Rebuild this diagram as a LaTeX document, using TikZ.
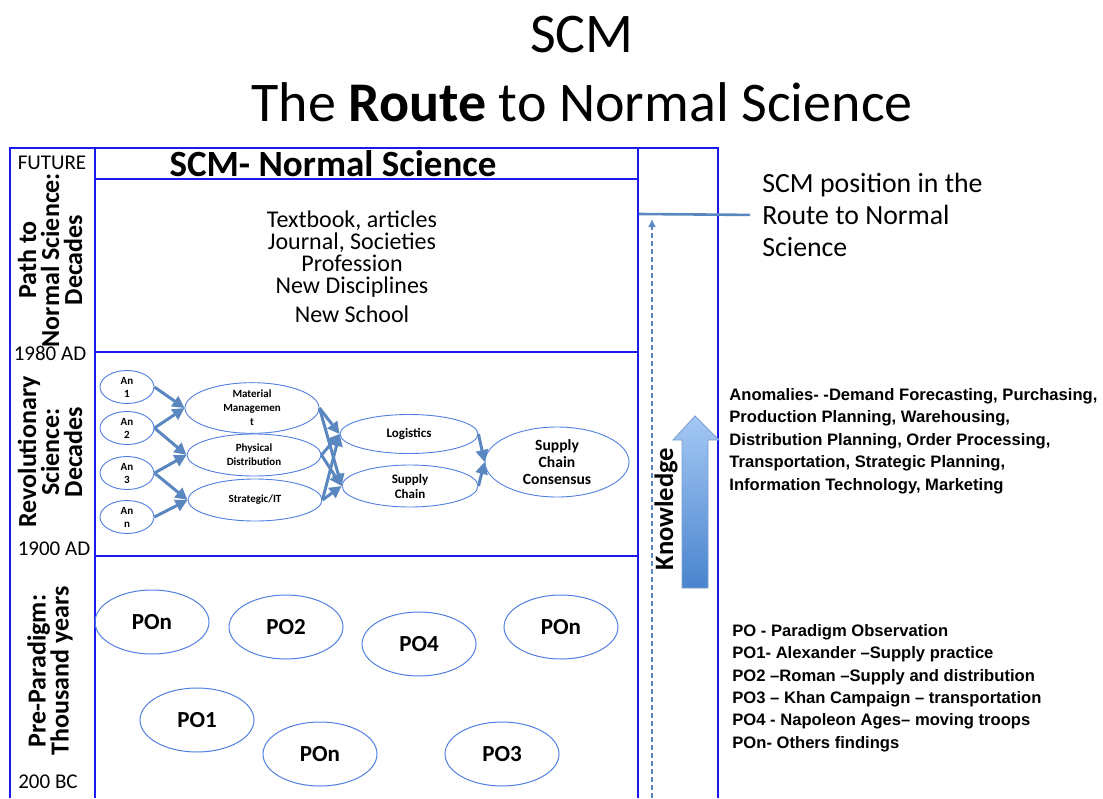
\documentclass[tikz,border=0pt]{standalone}
\usepackage{fontspec}
\setmainfont{Carlito}
\newfontfamily\arialfont{Liberation Sans}
\usetikzlibrary{shapes.geometric,arrows.meta}
\definecolor{boxblue}{HTML}{1A1AF0}
\definecolor{ellblue}{HTML}{4F7FE0}
\definecolor{arrblue}{HTML}{5B87C0}
\definecolor{lightarr}{HTML}{A4C8F4}
\definecolor{darkarr}{HTML}{4A84CE}

\begin{document}
\begin{tikzpicture}[x=0.5pt,y=-0.5pt,
  frame/.style={draw=boxblue,line width=0.7pt},
  an/.style={ellipse,draw=ellblue,line width=0.45pt,minimum width=27pt,minimum height=16.5pt,inner sep=0pt,align=center,font=\bfseries\fontsize{5.5}{6.5}\selectfont},
  mid/.style={an,minimum width=67pt,minimum height=21pt,font=\bfseries\fontsize{5.5}{7}\selectfont},
  flow/.style={draw=arrblue,line width=1.5pt,-{Triangle[length=6pt,width=6pt]}},
  po/.style={ellipse,draw=ellblue,line width=0.5pt,minimum width=57pt,minimum height=32pt,inner sep=0pt,font=\bfseries\fontsize{11.5}{12}\selectfont},
  side/.style={rotate=90,align=center,font=\bfseries\fontsize{13}{11.5}\selectfont},
  year/.style={font=\fontsize{10.5}{11}\selectfont},
  list/.style={anchor=west,align=left,inner sep=0pt,font=\arialfont\bfseries\fontsize{8.3}{11.2}\selectfont}]

    \useasboundingbox (0,0) rectangle (1103,798);

    % title
    \node[font=\fontsize{28}{34}\selectfont] (t1) at (582,35) {SCM};
    \node[font=\fontsize{28}{34}\selectfont] (t2) at (582,102) {The \textbf{Route} to Normal Science};

    % frame
    \draw[frame] (10,798) -- (10,148) -- (718,148) -- (718,798);
    \draw[frame] (95,148) -- (95,798);
    \draw[frame] (638,148) -- (638,798);
    \draw[frame] (95,179) -- (638,179);
    \draw[frame] (95,352) -- (638,352);
    \draw[frame] (95,556) -- (638,556);

    % time column
    \node[year] (y0) at (52,163) {FUTURE};
    \node[side] (s1) at (50,260) {Path to\\Normal Science:\\Decades};
    \node[year] (y1) at (50,353) {1980 AD};
    \node[side] (s2) at (50,452) {Revolutionary\\Science:\\Decades};
    \node[year] (y2) at (54,549) {1900 AD};
    \node[side] (s3) at (50,671) {Pre-Paradigm:\\Thousand years};
    \node[year] (y3) at (48,782) {200 BC};

    % normal science
    \node[font=\bfseries\fontsize{18.5}{20}\selectfont] (h) at (333,164) {SCM- Normal Science};
    \node[align=center,font=\fontsize{12}{11}\selectfont] (ns) at (352,254) {Textbook, articles\\Journal, Societies\\Profession\\New Disciplines};
    \node[font=\fontsize{12}{13}\selectfont] (school) at (352,314) {New School};

    % revolutionary science
    \node[an] (a1) at (127,387) {An\\1};
    \node[an] (a2) at (127,428) {An\\2};
    \node[an] (a3) at (127,473) {An\\3};
    \node[an] (a4) at (127,517) {An\\n};
    \node[mid] (mm) at (252,408) {Material\\Managemen\\t};
    \node[mid] (pd) at (254,455) {Physical\\Distribution};
    \node[mid] (it) at (255,500) {Strategic/IT};
    \node[mid,minimum width=69pt,minimum height=19.5pt,font=\bfseries\fontsize{6.5}{7.5}\selectfont] (lg) at (409,434) {Logistics};
    \node[mid,minimum width=68pt,font=\bfseries\fontsize{6.5}{7.5}\selectfont] (sc) at (410,486) {Supply\\Chain};
    \node[an,minimum width=72pt,minimum height=35pt,font=\bfseries\fontsize{7.8}{8.6}\selectfont] (scc) at (557,462) {Supply\\Chain\\Consensus};

    \draw[flow] (a1.east) -- (mm.west);
    \draw[flow] (a2.east) -- (mm.west);
    \draw[flow] (a2.east) -- (pd.west);
    \draw[flow] (a3.east) -- (pd.west);
    \draw[flow] (a3.east) -- (it.west);
    \draw[flow] (a4.east) -- (it.west);
    \draw[flow] (mm.east) -- (lg.west);
    \draw[flow] (mm.east) -- (sc.west);
    \draw[flow] (pd.east) -- (lg.west);
    \draw[flow] (pd.east) -- (sc.west);
    \draw[flow] (it.east) -- (lg.west);
    \draw[flow] (it.east) -- (sc.west);
    \draw[flow] (lg.east) -- (scc.west);
    \draw[flow] (sc.east) -- (scc.west);

    % pre-paradigm
    \node[po] (p1) at (152,622) {POn};
    \node[po] (p2) at (286,627) {PO2};
    \node[po] (p3) at (419,644) {PO4};
    \node[po] (p4) at (561,627) {POn};
    \node[po] (p5) at (197,720) {PO1};
    \node[po] (p6) at (320,754) {POn};
    \node[po] (p7) at (502,754) {PO3};

    % knowledge column
    \shade[top color=lightarr,bottom color=darkarr,draw=arrblue!80,line width=0.4pt]
      (682,588) -- (682,440) -- (673,440) -- (695,416) -- (719,440) -- (708,440) -- (708,588) -- cycle;
    \node[rotate=90,font=\bfseries\fontsize{13.3}{15}\selectfont] (know) at (666,509) {Knowledge};
    \coordinate (k0) at (652,798);
    \coordinate (k1) at (652,219);
    \draw[draw=arrblue,line width=1.2pt,dash pattern=on 2.5pt off 1.5pt,-{Latex[length=4pt,width=4pt]}] (k0) -- (k1);

    % SCM position
    \coordinate (p0) at (639,214);
    \node[anchor=west,align=left,inner sep=0pt,font=\fontsize{13.9}{16}\selectfont] (pos) at (762,215) {SCM position in the\\Route to Normal\\Science};
    \draw[arrblue,line width=1.3pt,shorten >=6pt] (p0) -- (pos.west);

    % notes
    \node[list] (anom) at (729,441) {Anomalies- -Demand Forecasting, Purchasing,\\Production Planning, Warehousing,\\Distribution Planning, Order Processing,\\Transportation, Strategic Planning,\\Information Technology, Marketing};
    \node[list] (obs) at (732,688) {PO - Paradigm Observation\\PO1- Alexander –Supply practice\\PO2 –Roman –Supply and distribution\\PO3 – Khan Campaign – transportation\\PO4 - Napoleon Ages– moving troops\\POn- Others findings};
\end{tikzpicture}
\end{document}
